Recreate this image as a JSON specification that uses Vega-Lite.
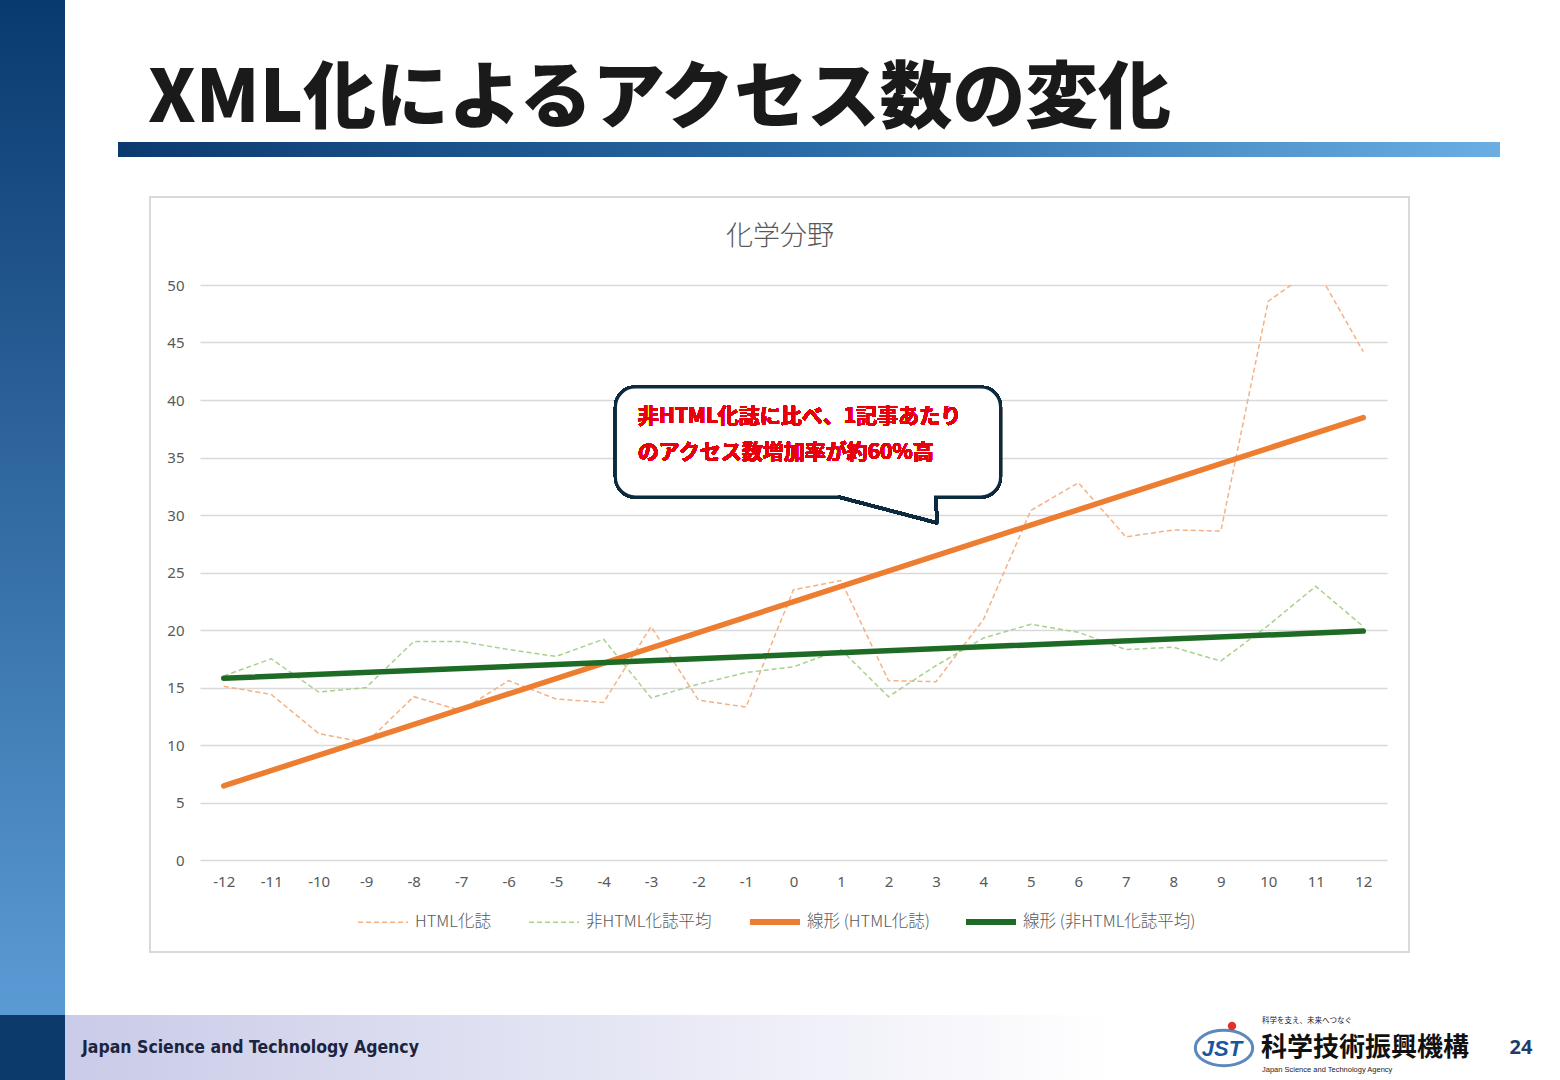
{
  "$schema": "https://vega.github.io/schema/vega-lite/v6.json",
  "width": 1187,
  "height": 575,
  "autosize": {"type": "none"},
  "padding": {"left": 200, "top": 285, "right": 173, "bottom": 220},
  "background": "#ffffff",
  "config": {
    "view": {"stroke": null},
    "font": "Noto Sans CJK JP"
  },
  "datasets": {
    "access": [
      {"t": -12, "s": "HTML化誌", "trend": "線形 (HTML化誌)", "v": 15.1},
      {"t": -11, "s": "HTML化誌", "trend": "線形 (HTML化誌)", "v": 14.4},
      {"t": -10, "s": "HTML化誌", "trend": "線形 (HTML化誌)", "v": 11.0},
      {"t": -9, "s": "HTML化誌", "trend": "線形 (HTML化誌)", "v": 10.2},
      {"t": -8, "s": "HTML化誌", "trend": "線形 (HTML化誌)", "v": 14.2},
      {"t": -7, "s": "HTML化誌", "trend": "線形 (HTML化誌)", "v": 13.0},
      {"t": -6, "s": "HTML化誌", "trend": "線形 (HTML化誌)", "v": 15.6},
      {"t": -5, "s": "HTML化誌", "trend": "線形 (HTML化誌)", "v": 14.0},
      {"t": -4, "s": "HTML化誌", "trend": "線形 (HTML化誌)", "v": 13.7},
      {"t": -3, "s": "HTML化誌", "trend": "線形 (HTML化誌)", "v": 20.3},
      {"t": -2, "s": "HTML化誌", "trend": "線形 (HTML化誌)", "v": 13.9},
      {"t": -1, "s": "HTML化誌", "trend": "線形 (HTML化誌)", "v": 13.3},
      {"t": 0, "s": "HTML化誌", "trend": "線形 (HTML化誌)", "v": 23.5},
      {"t": 1, "s": "HTML化誌", "trend": "線形 (HTML化誌)", "v": 24.3},
      {"t": 2, "s": "HTML化誌", "trend": "線形 (HTML化誌)", "v": 15.6},
      {"t": 3, "s": "HTML化誌", "trend": "線形 (HTML化誌)", "v": 15.5},
      {"t": 4, "s": "HTML化誌", "trend": "線形 (HTML化誌)", "v": 20.9},
      {"t": 5, "s": "HTML化誌", "trend": "線形 (HTML化誌)", "v": 30.4},
      {"t": 6, "s": "HTML化誌", "trend": "線形 (HTML化誌)", "v": 32.8},
      {"t": 7, "s": "HTML化誌", "trend": "線形 (HTML化誌)", "v": 28.1},
      {"t": 8, "s": "HTML化誌", "trend": "線形 (HTML化誌)", "v": 28.7},
      {"t": 9, "s": "HTML化誌", "trend": "線形 (HTML化誌)", "v": 28.6},
      {"t": 10, "s": "HTML化誌", "trend": "線形 (HTML化誌)", "v": 48.6},
      {"t": 11, "s": "HTML化誌", "trend": "線形 (HTML化誌)", "v": 51.5},
      {"t": 12, "s": "HTML化誌", "trend": "線形 (HTML化誌)", "v": 44.2},
      {"t": -12, "s": "非HTML化誌平均", "trend": "線形 (非HTML化誌平均)", "v": 16.0},
      {"t": -11, "s": "非HTML化誌平均", "trend": "線形 (非HTML化誌平均)", "v": 17.5},
      {"t": -10, "s": "非HTML化誌平均", "trend": "線形 (非HTML化誌平均)", "v": 14.6},
      {"t": -9, "s": "非HTML化誌平均", "trend": "線形 (非HTML化誌平均)", "v": 15.0},
      {"t": -8, "s": "非HTML化誌平均", "trend": "線形 (非HTML化誌平均)", "v": 19.0},
      {"t": -7, "s": "非HTML化誌平均", "trend": "線形 (非HTML化誌平均)", "v": 19.0},
      {"t": -6, "s": "非HTML化誌平均", "trend": "線形 (非HTML化誌平均)", "v": 18.3},
      {"t": -5, "s": "非HTML化誌平均", "trend": "線形 (非HTML化誌平均)", "v": 17.7},
      {"t": -4, "s": "非HTML化誌平均", "trend": "線形 (非HTML化誌平均)", "v": 19.2},
      {"t": -3, "s": "非HTML化誌平均", "trend": "線形 (非HTML化誌平均)", "v": 14.1},
      {"t": -2, "s": "非HTML化誌平均", "trend": "線形 (非HTML化誌平均)", "v": 15.3},
      {"t": -1, "s": "非HTML化誌平均", "trend": "線形 (非HTML化誌平均)", "v": 16.3},
      {"t": 0, "s": "非HTML化誌平均", "trend": "線形 (非HTML化誌平均)", "v": 16.8},
      {"t": 1, "s": "非HTML化誌平均", "trend": "線形 (非HTML化誌平均)", "v": 18.3},
      {"t": 2, "s": "非HTML化誌平均", "trend": "線形 (非HTML化誌平均)", "v": 14.2},
      {"t": 3, "s": "非HTML化誌平均", "trend": "線形 (非HTML化誌平均)", "v": 16.9},
      {"t": 4, "s": "非HTML化誌平均", "trend": "線形 (非HTML化誌平均)", "v": 19.3},
      {"t": 5, "s": "非HTML化誌平均", "trend": "線形 (非HTML化誌平均)", "v": 20.5},
      {"t": 6, "s": "非HTML化誌平均", "trend": "線形 (非HTML化誌平均)", "v": 19.8},
      {"t": 7, "s": "非HTML化誌平均", "trend": "線形 (非HTML化誌平均)", "v": 18.3},
      {"t": 8, "s": "非HTML化誌平均", "trend": "線形 (非HTML化誌平均)", "v": 18.5},
      {"t": 9, "s": "非HTML化誌平均", "trend": "線形 (非HTML化誌平均)", "v": 17.3},
      {"t": 10, "s": "非HTML化誌平均", "trend": "線形 (非HTML化誌平均)", "v": 20.4},
      {"t": 11, "s": "非HTML化誌平均", "trend": "線形 (非HTML化誌平均)", "v": 23.8},
      {"t": 12, "s": "非HTML化誌平均", "trend": "線形 (非HTML化誌平均)", "v": 20.3}
    ]
  },
  "data": {"name": "access"},
  "resolve": {"scale": {"color": "independent"}, "legend": {"color": "independent"}},
  "layer": [
    {
      "data": {"values": [{}]},
      "mark": {
        "type": "rect",
        "color": {
          "gradient": "linear", "x1": 0, "y1": 0, "x2": 0, "y2": 1,
          "stops": [{"offset": 0, "color": "#093a6f"}, {"offset": 1, "color": "#5b9bd5"}]
        }
      },
      "encoding": {
        "x": {"value": -200}, "x2": {"value": -135},
        "y": {"value": -285}, "y2": {"value": 730}
      }
    },
    {
      "data": {"values": [{}]},
      "mark": {"type": "rect", "color": "#0c3a6b"},
      "encoding": {
        "x": {"value": -200}, "x2": {"value": -135},
        "y": {"value": 730}, "y2": {"value": 795}
      }
    },
    {
      "data": {"values": [{}]},
      "mark": {
        "type": "rect",
        "color": {
          "gradient": "linear", "x1": 0, "y1": 0, "x2": 1, "y2": 0,
          "stops": [{"offset": 0, "color": "#c9cbe8"}, {"offset": 0.7, "color": "#ffffff"}]
        }
      },
      "encoding": {
        "x": {"value": -135}, "x2": {"value": 1360},
        "y": {"value": 730}, "y2": {"value": 795}
      }
    },
    {
      "data": {"values": [{}]},
      "mark": {
        "type": "rect",
        "color": {
          "gradient": "linear", "x1": 0, "y1": 0, "x2": 1, "y2": 0,
          "stops": [{"offset": 0, "color": "#0b3a6e"}, {"offset": 0.5, "color": "#2a6aa6"}, {"offset": 1, "color": "#6aaee3"}]
        }
      },
      "encoding": {
        "x": {"value": -82}, "x2": {"value": 1300},
        "y": {"value": -143}, "y2": {"value": -128}
      }
    },
    {
      "data": {"values": [{}]},
      "mark": {
        "type": "text", "text": "XML化によるアクセス数の変化",
        "font": "'Noto Sans CJK JP Black', 'Noto Sans CJK JP'", "fontSize": 72.8, "fontWeight": 900,
        "color": "#1a1a1a", "align": "left", "baseline": "alphabetic"
      },
      "encoding": {"x": {"value": -52}, "y": {"value": -163}}
    },
    {
      "data": {"values": [{}]},
      "mark": {"type": "rect", "fillOpacity": 0, "stroke": "#d9d9d9", "strokeWidth": 2},
      "encoding": {
        "x": {"value": -50}, "x2": {"value": 1209},
        "y": {"value": -88}, "y2": {"value": 667}
      }
    },
    {
      "data": {"values": [{}]},
      "mark": {"type": "text", "text": "化学分野", "fontSize": 27, "fontWeight": 300, "color": "#595959", "align": "center", "baseline": "middle"},
      "encoding": {"x": {"value": 580}, "y": {"value": -48}}
    },
    {
      "data": {"values": [{}]},
      "mark": {"type": "text", "text": "Japan Science and Technology Agency", "font": "'DejaVu Sans Condensed', 'Liberation Sans', sans-serif", "fontSize": 17.5, "fontWeight": "bold", "color": "#1b2440", "align": "left", "baseline": "middle"},
      "encoding": {"x": {"value": -118}, "y": {"value": 763}}
    },
    {
      "data": {"values": [{}]},
      "mark": {"type": "text", "text": "24", "font": "Noto Sans", "fontSize": 20, "fontWeight": "bold", "color": "#1f3d6b", "align": "center", "baseline": "middle"},
      "encoding": {"x": {"value": 1321}, "y": {"value": 763}}
    },
    {
      "data": {"values": [{}]},
      "mark": {"type": "text", "text": "科学技術振興機構", "fontSize": 26, "fontWeight": "bold", "color": "#111111", "align": "left", "baseline": "middle"},
      "encoding": {"x": {"value": 1061}, "y": {"value": 763}}
    },
    {
      "data": {"values": [{}]},
      "mark": {"type": "text", "text": "科学を支え、未来へつなぐ", "fontSize": 7.5, "color": "#222222", "align": "left", "baseline": "middle"},
      "encoding": {"x": {"value": 1062}, "y": {"value": 736}}
    },
    {
      "data": {"values": [{}]},
      "mark": {"type": "text", "text": "Japan Science and Technology Agency", "font": "Liberation Sans", "fontSize": 7.5, "color": "#222222", "align": "left", "baseline": "middle"},
      "encoding": {"x": {"value": 1062}, "y": {"value": 785}}
    },
    {
      "data": {"values": [{}]},
      "mark": {"type": "text", "text": "JST", "font": "Liberation Sans", "fontSize": 22, "fontWeight": "bold", "fontStyle": "italic", "color": "#1a56a0", "align": "center", "baseline": "middle"},
      "encoding": {"x": {"value": 1022}, "y": {"value": 764}}
    },
    {
      "data": {"values": [{}]},
      "mark": {"type": "point", "shape": "M-1,0A1,0.62,0,1,1,1,0A1,0.62,0,1,1,-1,0Z", "size": 3300, "filled": false, "stroke": "#1a56a0", "strokeWidth": 3},
      "encoding": {"x": {"value": 1024}, "y": {"value": 763}}
    },
    {
      "data": {"values": [{}]},
      "mark": {"type": "point", "shape": "circle", "size": 70, "filled": true, "color": "#e0322d", "opacity": 1},
      "encoding": {"x": {"value": 1032}, "y": {"value": 741}}
    },
    {
      "mark": {"type": "line", "strokeWidth": 1.5, "strokeDash": [5, 3], "clip": true},
      "encoding": {
        "x": {
          "field": "t", "type": "quantitative",
          "scale": {"domain": [-12.5, 12.5], "nice": false, "zero": false},
          "axis": {
            "values": [-12, -11, -10, -9, -8, -7, -6, -5, -4, -3, -2, -1, 0, 1, 2, 3, 4, 5, 6, 7, 8, 9, 10, 11, 12],
            "labelExpr": "'' + datum.value",
            "title": null, "grid": false, "domain": false, "ticks": false,
            "labelFlush": false, "labelFontSize": 15, "labelColor": "#595959",
            "labelFont": "Noto Sans", "labelPadding": 14
          }
        },
        "y": {
          "field": "v", "type": "quantitative",
          "scale": {"domain": [0, 50], "nice": false},
          "axis": {
            "values": [0, 5, 10, 15, 20, 25, 30, 35, 40, 45, 50],
            "title": null, "grid": true, "gridColor": "#d9d9d9", "gridWidth": 1.5,
            "domain": false, "ticks": false, "labelFontSize": 15, "labelColor": "#595959",
            "labelFont": "Noto Sans", "labelPadding": 16
          }
        },
        "color": {
          "field": "s", "type": "nominal",
          "scale": {
            "domain": ["HTML化誌", "非HTML化誌平均"],
            "range": ["#f4b183", "#a9d18e"]
          },
          "legend": {
            "orient": "none", "legendX": 157, "legendY": 611,
            "direction": "horizontal", "title": null,
            "symbolType": "stroke", "symbolSize": 2500,
            "symbolStrokeWidth": 1.5, "symbolDash": [5, 3],
            "labelFontSize": 16.5, "labelColor": "#595959", "labelFontWeight": 300,
            "labelOffset": 6, "columnPadding": 35, "labelLimit": 300
          }
        }
      }
    },
    {
      "transform": [{"regression": "v", "on": "t", "groupby": ["trend"]}],
      "mark": {"type": "line", "strokeWidth": 5.5, "strokeCap": "round"},
      "encoding": {
        "x": {"field": "t", "type": "quantitative"},
        "y": {"field": "v", "type": "quantitative"},
        "color": {
          "field": "trend", "type": "nominal",
          "scale": {
            "domain": ["線形 (HTML化誌)", "線形 (非HTML化誌平均)"],
            "range": ["#ed7d31", "#1e6b25"]
          },
          "legend": {
            "orient": "none", "legendX": 547, "legendY": 609,
            "direction": "horizontal", "title": null,
            "symbolType": "stroke", "symbolSize": 2500,
            "symbolStrokeWidth": 6,
            "labelFontSize": 16.5, "labelColor": "#595959", "labelFontWeight": 300,
            "labelOffset": 4, "columnPadding": 24, "labelLimit": 300
          }
        }
      }
    },
    {
      "mark": {"type": "rect", "fill": "#ffffff", "stroke": "#0d2b3e", "strokeWidth": 3, "cornerRadius": 20},
      "encoding": {
        "x": {"datum": -3.75}, "x2": {"datum": 4.36},
        "y": {"datum": 41.13}, "y2": {"datum": 31.57}
      }
    },
    {
      "mark": {"type": "rule", "stroke": "#ffffff", "strokeWidth": 5},
      "encoding": {
        "x": {"datum": 1.0}, "x2": {"datum": 2.95},
        "y": {"datum": 31.57}, "y2": {"datum": 31.57}
      }
    },
    {
      "mark": {"type": "rule", "stroke": "#0d2b3e", "strokeWidth": 3},
      "encoding": {
        "x": {"datum": 0.95}, "x2": {"datum": 3.03},
        "y": {"datum": 31.57}, "y2": {"datum": 29.3}
      }
    },
    {
      "mark": {"type": "rule", "stroke": "#0d2b3e", "strokeWidth": 3},
      "encoding": {
        "x": {"datum": 2.99}, "x2": {"datum": 3.03},
        "y": {"datum": 31.57}, "y2": {"datum": 29.3}
      }
    },
    {
      "mark": {
        "type": "text",
        "text": ["非HTML化誌に比べ、1記事あたり", "のアクセス数増加率が約60%高"],
        "fontSize": 21, "fontWeight": "bold", "color": "#e8000b",
        "align": "left", "baseline": "top", "lineHeight": 36
      },
      "encoding": {"x": {"datum": -3.28}, "y": {"datum": 39.5}}
    }
  ]
}
